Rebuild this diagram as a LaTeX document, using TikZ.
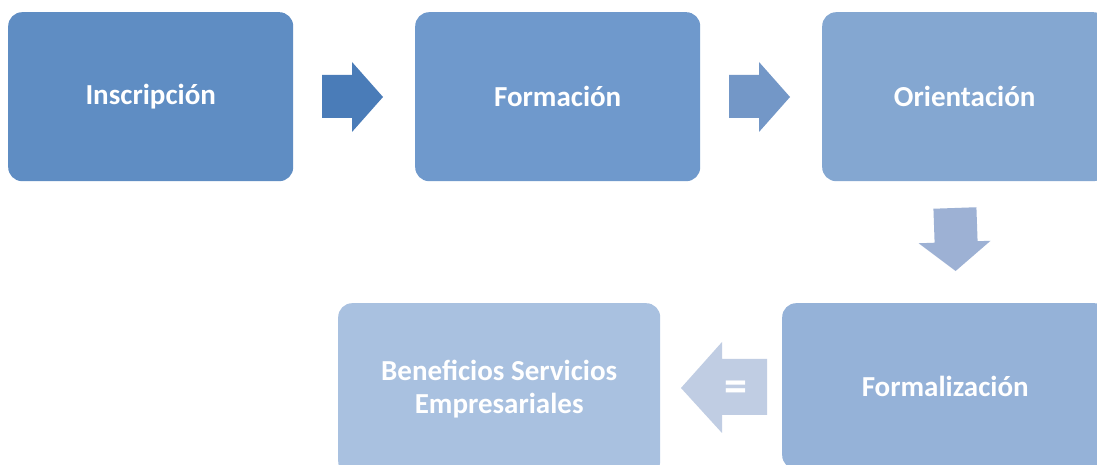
\documentclass[tikz,border=0pt]{standalone}
\usepackage{fontspec}
\setmainfont{Carlito}
\begin{document}
\begin{tikzpicture}[x=1pt,y=1pt,
  stepbox/.style={rectangle, rounded corners=14pt, inner sep=0pt, text=white,
    font=\bfseries\fontsize{29}{33}\selectfont, align=center, anchor=north west},
  blockarrow/.style={draw=none}]
\definecolor{cA}{HTML}{5F8DC3}
\definecolor{cB}{HTML}{6F99CC}
\definecolor{cC}{HTML}{84A7D1}
\definecolor{cD}{HTML}{95B2D8}
\definecolor{cE}{HTML}{A9C1E0}
\definecolor{aA}{HTML}{4A7CB8}
\definecolor{aB}{HTML}{7397C7}
\definecolor{aC}{HTML}{9DB1D4}
\definecolor{aD}{HTML}{C0CDE3}
\clip (0,0) rectangle (1097,465);
\fill[white] (0,0) rectangle (1097,465);
% boxes
\node[stepbox, fill=cA, minimum width=285pt, minimum height=169pt] (ins) at (8,453) {Inscripción};
\node[stepbox, fill=cB, minimum width=285pt, minimum height=169pt] (for) at (415,453) {Formación};
\node[stepbox, fill=cC, minimum width=285pt, minimum height=169pt] (ori) at (822,453) {Orientación};
\node[stepbox, fill=cD, minimum width=326pt, minimum height=166pt] (fml) at (782,162) {Formalización};
\node[stepbox, fill=cE, minimum width=322pt, minimum height=172pt] (ben) at (338,162) {Beneficios Servicios\\Empresariales};
% block arrows
\fill[aA] (322,390) -- (352,390) -- (352,403) -- (383,368) -- (352,333) -- (352,347) -- (322,347) -- cycle;
\fill[aB] (729,390) -- (759,390) -- (759,403) -- (790,368) -- (759,333) -- (759,347) -- (729,347) -- cycle;
\begin{scope}[rotate around={2:(955,240)}]
\fill[aC] (934,257) -- (977,257) -- (977,223) -- (990,223) -- (954,194) -- (918,223) -- (934,223) -- cycle;
\end{scope}
\fill[aD] (767,106) -- (722,106) -- (722,123) -- (681,77) -- (722,32) -- (722,50) -- (767,50) -- cycle;
\node[text=white, font=\bfseries\fontsize{46}{48}\selectfont] (eq) at (736,74) {=};
\end{tikzpicture}
\end{document}
